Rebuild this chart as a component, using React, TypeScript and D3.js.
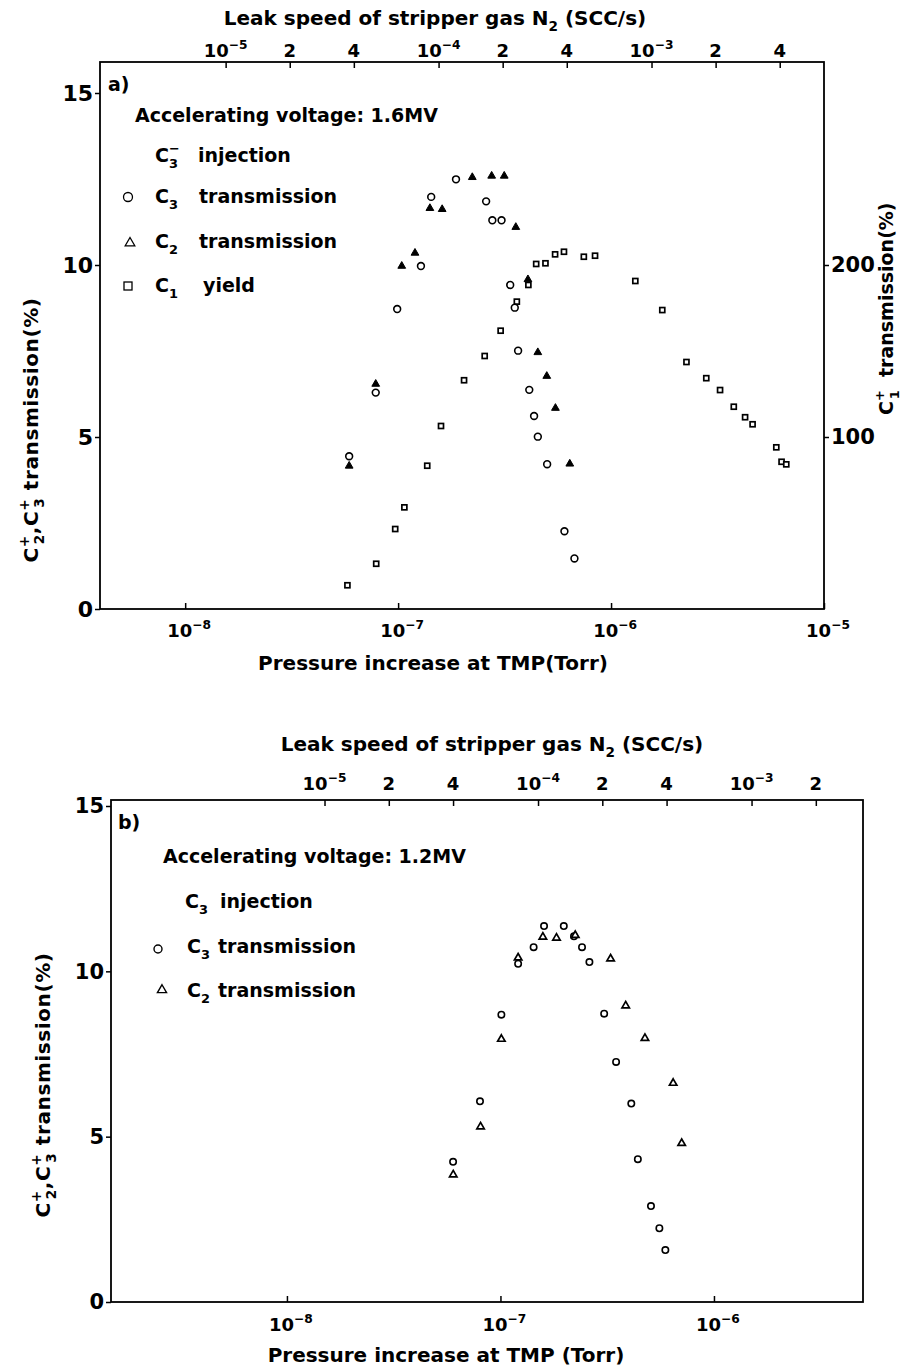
import React, { useEffect, useRef } from 'react';
import * as d3 from 'd3';

// a) 1.6MV, C3- injection : pressure increase (Torr) vs transmission (%)
const pressA_C3 = [5.89e-8, 7.85e-8, 9.9e-8, 1.28e-7, 1.43e-7, 1.87e-7, 2.59e-7, 2.77e-7, 3.06e-7, 3.36e-7, 3.53e-7, 3.66e-7, 4.13e-7, 4.35e-7, 4.53e-7, 5.01e-7, 6.04e-7, 6.73e-7];
const transA_C3 = [4.44, 6.29, 8.72, 9.97, 11.98, 12.49, 11.85, 11.3, 11.3, 9.42, 8.76, 7.51, 6.37, 5.61, 5.01, 4.21, 2.26, 1.47];

const pressA_C2 = [5.89e-8, 7.85e-8, 1.04e-7, 1.2e-7, 1.41e-7, 1.61e-7, 2.23e-7, 2.75e-7, 3.15e-7, 3.57e-7, 4.07e-7, 4.53e-7, 4.99e-7, 5.48e-7, 6.4e-7];
const transA_C2 = [4.16, 6.54, 9.97, 10.35, 11.65, 11.62, 12.55, 12.59, 12.59, 11.1, 9.58, 7.46, 6.77, 5.84, 4.22];

// C1 yield, read on the right axis (%)
const pressA_C1 = [5.78e-8, 7.89e-8, 9.69e-8, 1.07e-7, 1.37e-7, 1.59e-7, 2.04e-7, 2.55e-7, 3.03e-7, 3.61e-7, 4.09e-7, 4.45e-7, 4.92e-7, 5.46e-7, 6.01e-7, 7.45e-7, 8.41e-7, 1.3e-6, 1.74e-6, 2.26e-6, 2.8e-6, 3.25e-6, 3.77e-6, 4.26e-6, 4.62e-6, 5.97e-6, 6.32e-6, 6.65e-6];
const yieldA_C1 = [13.8, 26.3, 46.5, 59.1, 83.3, 106.4, 133.0, 147.1, 161.8, 178.7, 188.4, 200.6, 201.0, 206.2, 207.7, 204.8, 205.4, 190.7, 173.8, 143.6, 134.2, 127.3, 117.6, 111.5, 107.4, 94.0, 85.6, 84.1];

// b) 1.2MV, C3 injection
const pressB_C3 = [6.0e-8, 8.02e-8, 1.01e-7, 1.21e-7, 1.43e-7, 1.6e-7, 1.98e-7, 2.21e-7, 2.41e-7, 2.61e-7, 3.06e-7, 3.48e-7, 4.1e-7, 4.4e-7, 5.07e-7, 5.55e-7, 5.92e-7];
const transB_C3 = [4.24, 6.07, 8.69, 10.23, 10.73, 11.37, 11.37, 11.06, 10.73, 10.28, 8.72, 7.26, 6.0, 4.32, 2.9, 2.23, 1.57];

const pressB_C2 = [6.01e-8, 8.07e-8, 1.01e-7, 1.21e-7, 1.58e-7, 1.83e-7, 2.24e-7, 3.28e-7, 3.86e-7, 4.75e-7, 6.44e-7, 7.06e-7];
const transB_C2 = [3.85, 5.3, 7.95, 10.41, 11.04, 11.01, 11.09, 10.38, 8.96, 7.98, 6.62, 4.8];

const topTicksA = [1e-5, 2e-5, 4e-5, 1e-4, 2e-4, 4e-4, 1e-3, 2e-3, 4e-3];
const topTicksB = [1e-5, 2e-5, 4e-5, 1e-4, 2e-4, 4e-4, 1e-3, 2e-3];
const bottomTicksA = [1e-8, 1e-7, 1e-6, 1e-5];
const bottomTicksB = [1e-8, 1e-7, 1e-6];
const yTicks = [0, 5, 10, 15];
const rightTicksA = [100, 200];

const FONT = "'DejaVu Sans', sans-serif";

// text with sub/superscripts: parts = [{t, sup?, sub?, dx?}]
function richText(parent, x, y, parts, size) {
    const t = parent.append('text')
        .attr('x', x).attr('y', y)
        .attr('font-family', FONT)
        .attr('font-weight', 'bold')
        .attr('font-size', size)
        .style('white-space', 'pre');
    let shift = 0;
    parts.forEach(p => {
        const target = p.sup ? -0.45 * size : p.sub ? 0.3 * size : 0;
        const s = t.append('tspan').attr('dy', target - shift).text(p.t);
        if (p.sup || p.sub) s.attr('font-size', size * 0.68);
        if (p.dx) s.attr('dx', p.dx);
        shift = target;
    });
    return t;
}

function logParts(d) {
    const e = Math.floor(Math.log10(d) + 1e-9);
    const m = Math.round(d / Math.pow(10, e));
    if (m === 1) return [{ t: '10' }, { t: '−' + Math.abs(e), sup: true }];
    return [{ t: String(m) }];
}

function drawPanel(svg, cfg) {
    const { left, right, top, bottom } = cfg;
    const x = d3.scaleLog().domain(cfg.xDomain).range([left, right]);
    const xTop = d3.scaleLog()
        .domain(cfg.xDomain.map(d => d * Math.pow(10, cfg.leakShift)))
        .range([left, right]);
    const y = d3.scaleLinear().domain([0, 15]).range([bottom, cfg.y15]);

    const g = svg.append('g');

    g.append('rect')
        .attr('x', left).attr('y', top)
        .attr('width', right - left).attr('height', bottom - top)
        .attr('fill', 'none').attr('stroke', 'black').attr('stroke-width', 1.8);

    // top axis (leak speed), ticks inward
    g.append('g')
        .attr('transform', `translate(0,${top})`)
        .call(d3.axisTop(xTop).tickValues(cfg.topTicks).tickSize(-6).tickFormat(() => ''))
        .call(s => s.select('.domain').remove())
        .call(s => s.selectAll('.tick line').attr('stroke-width', 1.5))
        .call(s => s.selectAll('.tick text').remove());
    cfg.topTicks.forEach(d => {
        richText(g, xTop(d), cfg.topLabelY, logParts(d), 18).attr('text-anchor', 'middle');
    });

    // bottom axis (pressure), ticks inward
    g.append('g')
        .attr('transform', `translate(0,${bottom})`)
        .call(d3.axisBottom(x).tickValues(cfg.bottomTicks).tickSize(-6).tickFormat(() => ''))
        .call(s => s.select('.domain').remove())
        .call(s => s.selectAll('.tick line').attr('stroke-width', 1.5))
        .call(s => s.selectAll('.tick text').remove());
    cfg.bottomTicks.forEach(d => {
        richText(g, x(d) + 4, cfg.bottomLabelY, logParts(d), 18).attr('text-anchor', 'middle');
    });

    // left axis
    g.append('g')
        .attr('transform', `translate(${left},0)`)
        .call(d3.axisLeft(y).tickValues(yTicks).tickSize(5).tickPadding(2))
        .call(s => s.select('.domain').remove())
        .call(s => s.selectAll('.tick line').attr('stroke-width', 1.5))
        .call(s => s.selectAll('.tick text')
            .attr('font-family', FONT).attr('font-weight', 'bold')
            .attr('font-size', cfg.yFont).attr('fill', 'black'));

    return { x, y, g };
}

function circles(g, x, y, xs, ys, r) {
    g.append('g').selectAll('circle')
        .data(d3.zip(xs, ys))
        .join('circle')
        .attr('cx', d => x(d[0])).attr('cy', d => y(d[1]))
        .attr('r', r)
        .attr('fill', 'white').attr('stroke', 'black').attr('stroke-width', 1.6);
}

function triangles(g, x, y, xs, ys, size, filled) {
    g.append('g').selectAll('path')
        .data(d3.zip(xs, ys))
        .join('path')
        .attr('d', d3.symbol(d3.symbolTriangle, size))
        .attr('transform', d => `translate(${x(d[0])},${y(d[1])})`)
        .attr('fill', filled ? 'black' : 'white')
        .attr('stroke', 'black').attr('stroke-width', filled ? 1 : 1.7);
}

function squares(g, x, y, xs, ys, s) {
    g.append('g').selectAll('rect')
        .data(d3.zip(xs, ys))
        .join('rect')
        .attr('x', d => x(d[0]) - s / 2).attr('y', d => y(d[1]) - s / 2)
        .attr('width', s).attr('height', s)
        .attr('fill', 'white').attr('stroke', 'black').attr('stroke-width', 1.7);
}

export default function App() {
    const ref = useRef(null);

    useEffect(() => {
        const svg = d3.select(ref.current);
        svg.selectAll('*').remove();

        // ---------- panel a ----------
        const A = drawPanel(svg, {
            left: 100, right: 824, top: 62, bottom: 609, y15: 93,
            xDomain: [Math.pow(10, -8.4), 1e-5], leakShift: 2.81,
            topTicks: topTicksA, bottomTicks: bottomTicksA,
            topLabelY: 57, bottomLabelY: 637, yFont: 22,
        });
        const yR = d3.scaleLinear().domain([0, 300]).range([609, 93]);
        A.g.append('g')
            .attr('transform', 'translate(824,0)')
            .call(d3.axisRight(yR).tickValues(rightTicksA).tickSize(5).tickPadding(2))
            .call(s => s.select('.domain').remove())
            .call(s => s.selectAll('.tick line').attr('stroke-width', 1.5))
            .call(s => s.selectAll('.tick text')
                .attr('font-family', FONT).attr('font-weight', 'bold')
                .attr('font-size', 21).attr('fill', 'black'));

        squares(A.g, A.x, yR, pressA_C1, yieldA_C1, 5);
        circles(A.g, A.x, A.y, pressA_C3, transA_C3, 3.4);
        triangles(A.g, A.x, A.y, pressA_C2, transA_C2, 26, true);

        richText(svg, 435, 25, [{ t: 'Leak speed of stripper gas N' }, { t: '2', sub: true }, { t: ' (SCC/s)' }], 20)
            .attr('text-anchor', 'middle');
        richText(svg, 108, 91, [{ t: 'a)' }], 19);
        richText(svg, 135, 122, [{ t: 'Accelerating voltage: 1.6MV' }], 19);
        richText(svg, 155, 162, [{ t: 'C' }, { t: '3', sub: true }, { t: '−', sup: true, dx: -9 }], 19);
        richText(svg, 198, 162, [{ t: 'injection' }], 19);
        richText(svg, 155, 203, [{ t: 'C' }, { t: '3', sub: true }], 19);
        richText(svg, 199, 203, [{ t: 'transmission' }], 19);
        richText(svg, 155, 248, [{ t: 'C' }, { t: '2', sub: true }], 19);
        richText(svg, 199, 248, [{ t: 'transmission' }], 19);
        richText(svg, 155, 292, [{ t: 'C' }, { t: '1', sub: true }], 19);
        richText(svg, 203, 292, [{ t: 'yield' }], 19);

        svg.append('circle').attr('cx', 128).attr('cy', 197).attr('r', 4.5)
            .attr('fill', 'white').attr('stroke', 'black').attr('stroke-width', 1.3);
        svg.append('path').attr('d', d3.symbol(d3.symbolTriangle, 40))
            .attr('transform', 'translate(130,243)')
            .attr('fill', 'white').attr('stroke', 'black').attr('stroke-width', 1.3);
        svg.append('rect').attr('x', 124).attr('y', 282).attr('width', 8).attr('height', 8)
            .attr('fill', 'white').attr('stroke', 'black').attr('stroke-width', 1.3);

        richText(svg, 0, 0, [
            { t: 'C' }, { t: '+', sup: true }, { t: '2', sub: true, dx: -9 }, { t: ',C' },
            { t: '+', sup: true }, { t: '3', sub: true, dx: -9 }, { t: ' transmission(%)' },
        ], 20).attr('text-anchor', 'middle').attr('letter-spacing', 0.6)
            .attr('transform', 'translate(38,430) rotate(-90)');

        richText(svg, 0, 0, [
            { t: 'C' }, { t: '+', sup: true }, { t: '1', sub: true, dx: -9 }, { t: '  transmission(%)' },
        ], 19).attr('transform', 'translate(893,415) rotate(-90)');

        richText(svg, 433, 670, [{ t: 'Pressure increase at TMP(Torr)' }], 20).attr('text-anchor', 'middle');

        // ---------- panel b ----------
        const B = drawPanel(svg, {
            left: 111, right: 863, top: 800, bottom: 1302, y15: 806,
            xDomain: [Math.pow(10, -8.824), Math.pow(10, -5.302)], leakShift: 2.824,
            topTicks: topTicksB, bottomTicks: bottomTicksB,
            topLabelY: 790, bottomLabelY: 1331, yFont: 21,
        });
        circles(B.g, B.x, B.y, pressB_C3, transB_C3, 3.2);
        triangles(B.g, B.x, B.y, pressB_C2, transB_C2, 24, false);

        richText(svg, 492, 751, [{ t: 'Leak speed of stripper gas N' }, { t: '2', sub: true }, { t: ' (SCC/s)' }], 20)
            .attr('text-anchor', 'middle');
        richText(svg, 118, 829, [{ t: 'b)' }], 19);
        richText(svg, 163, 863, [{ t: 'Accelerating voltage: 1.2MV' }], 19);
        richText(svg, 185, 908, [{ t: 'C' }, { t: '3', sub: true }], 19);
        richText(svg, 220, 908, [{ t: 'injection' }], 19);
        richText(svg, 187, 953, [{ t: 'C' }, { t: '3', sub: true }], 19);
        richText(svg, 218, 953, [{ t: 'transmission' }], 19);
        richText(svg, 187, 997, [{ t: 'C' }, { t: '2', sub: true }], 19);
        richText(svg, 218, 997, [{ t: 'transmission' }], 19);

        svg.append('circle').attr('cx', 158).attr('cy', 949).attr('r', 4)
            .attr('fill', 'white').attr('stroke', 'black').attr('stroke-width', 1.4);
        svg.append('path').attr('d', d3.symbol(d3.symbolTriangle, 36))
            .attr('transform', 'translate(162,990)')
            .attr('fill', 'white').attr('stroke', 'black').attr('stroke-width', 1.4);

        richText(svg, 0, 0, [
            { t: 'C' }, { t: '+', sup: true }, { t: '2', sub: true, dx: -9 }, { t: ',C' },
            { t: '+', sup: true }, { t: '3', sub: true, dx: -9 }, { t: ' transmission(%)' },
        ], 20).attr('text-anchor', 'middle').attr('letter-spacing', 0.6)
            .attr('transform', 'translate(50,1085) rotate(-90)');

        richText(svg, 446, 1362, [{ t: 'Pressure increase at TMP (Torr)' }], 20).attr('text-anchor', 'middle');
    }, []);

    return (
        <svg ref={ref} width={902} height={1367}
            style={{ position: 'absolute', left: 0, top: 0, background: 'white' }} />
    );
}
